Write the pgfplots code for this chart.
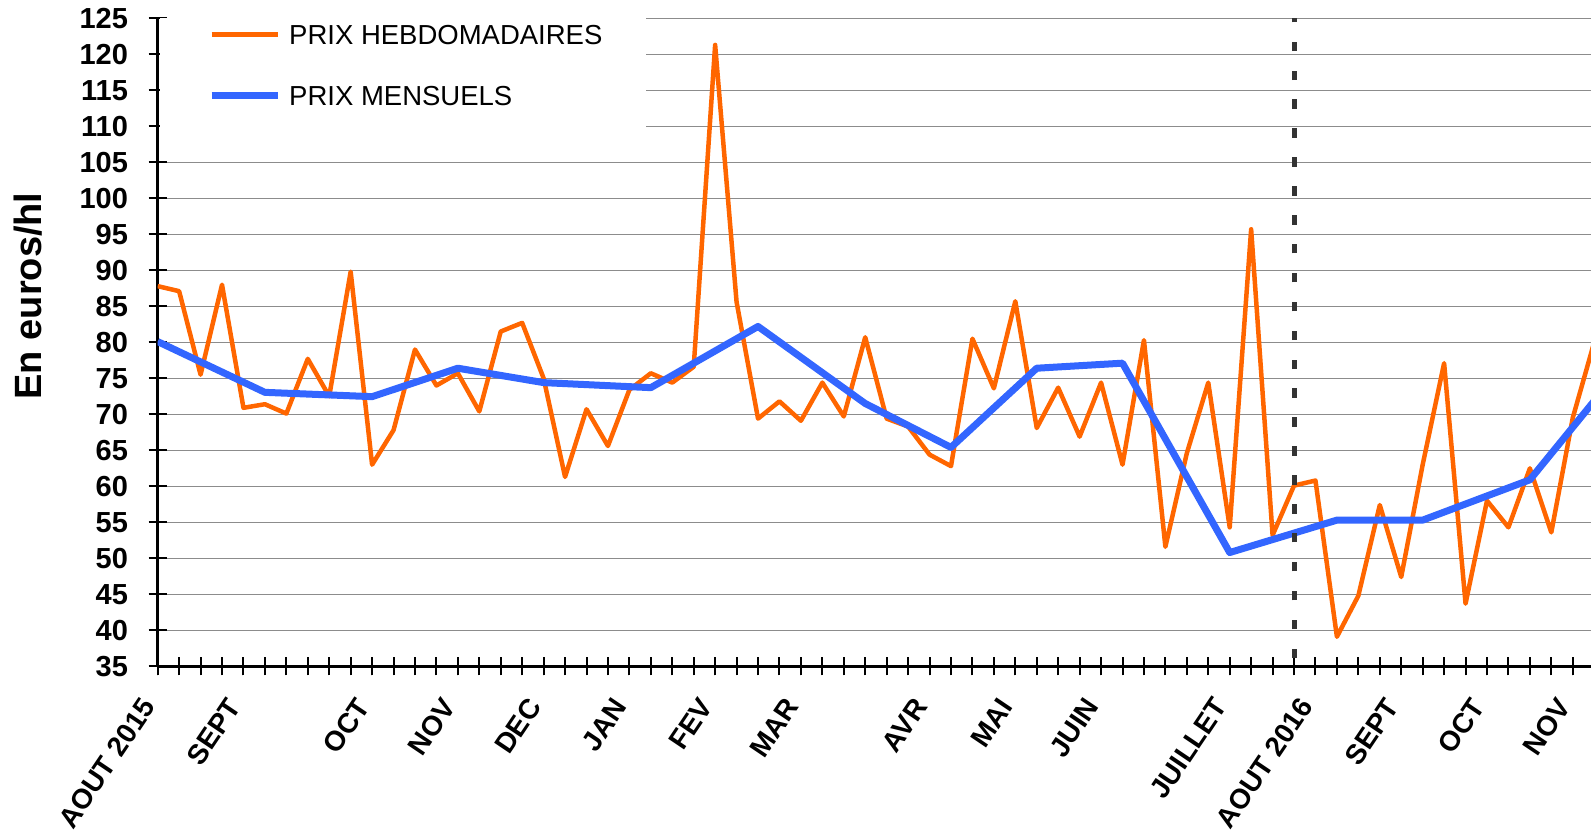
\documentclass[border=0pt]{standalone}
\usepackage{fontspec}
\setmainfont{Liberation Sans}
\usepackage{pgfplots}
\pgfplotsset{compat=1.18}
\definecolor{hebdo}{HTML}{FF6600}
\definecolor{mensuel}{HTML}{3366FF}
\definecolor{gridgray}{HTML}{8C8C8C}
\definecolor{dashgray}{HTML}{333333}
\begin{document}
\begin{tikzpicture}
\path[use as bounding box] (-157.7pt,-167.7pt) rectangle (1433.3pt,666.3pt);
\begin{axis}[
  scale only axis, width=1433.3pt, height=648pt,
  xmin=0, xmax=66.85, ymin=35, ymax=125,
  axis x line*=bottom, axis y line*=left,
  axis line style={line width=2.6pt, black},
  ytick={35,40,...,125},
  xtick={0,4,10,14,18,22,26,30,36,40,44,50,54,58,62,66},
  xticklabels={AOUT 2015,SEPT,OCT,NOV,DEC,JAN,FEV,MAR,AVR,MAI,JUIN,JUILLET,AOUT 2016,SEPT,OCT,NOV},
  minor xtick={0,...,66},
  tick align=center,
  major tick length=18pt, minor tick length=18pt,
  tick style={line width=2pt, black},
  ymajorgrids, grid style={gridgray, line width=1.3pt},
  /pgf/number format/assume math mode=true,
  ticklabel style={font=\fontsize{29}{30}\selectfont\bfseries, inner sep=0pt},
  yticklabel style={anchor=east, xshift=-20.5pt},
  xticklabel style={font=\fontsize{28}{30}\selectfont\bfseries,
    xshift=-9pt, yshift=-26pt, rotate=56, anchor=east},
  ylabel={En euros/hl},
  ylabel style={font=\fontsize{38}{40}\selectfont\bfseries,
    at={(axis description cs:-0.0901,0.5715)}, anchor=center},
  legend style={at={(axis description cs:0.0351,0.9906)}, anchor=north west,
    draw=none, fill=none, inner sep=0pt, row sep=41pt, column sep=8pt,
    font=\fontsize{27.5}{30}\selectfont,
    nodes={inner sep=0pt, text height=20pt, text depth=0pt}},
  legend cell align=left,
  legend image code/.code={\draw[#1] (0pt,0pt) -- (66pt,0pt);},
]
% white box behind the legend
\fill[white] (axis cs:0.12,109.5) rectangle (axis cs:22.78,126);

% weekly prices
\addplot[hebdo, line width=4.5pt, line join=round] coordinates {
 (0,87.8) (1,87.1) (2,75.5) (3,88.0) (4,70.9) (5,71.4) (6,70.1) (7,77.7)
 (8,72.5) (9,89.8) (10,63.0) (11,67.8) (12,79.0) (13,74.0) (14,75.7) (15,70.4)
 (16,81.5) (17,82.7) (18,75.0) (19,61.3) (20,70.7) (21,65.6) (22,73.4) (23,75.7)
 (24,74.4) (25,76.6) (26,121.3) (27,85.6) (28,69.4) (29,71.8) (30,69.1) (31,74.4)
 (32,69.7) (33,80.7) (34,69.4) (35,68.3) (36,64.4) (37,62.8) (38,80.5) (39,73.6)
 (40,85.7) (41,68.1) (42,73.7) (43,66.9) (44,74.4) (45,63.0) (46,80.3) (47,51.6)
 (48,64.6) (49,74.4) (50,54.3) (51,95.7) (52,53.2) (53,60.1) (54,60.8) (55,39.1)
 (56,44.8) (57,57.4) (58,47.4) (59,63.0) (60,77.1) (61,43.7) (62,58.0) (63,54.3)
 (64,62.5) (65,53.6) (66,69.5) (67,80.0)
};
\addlegendentry{PRIX HEBDOMADAIRES}

% monthly prices
\addplot[mensuel, line width=7pt, line join=round] coordinates {
 (0,80.1) (5,73.05) (10,72.45) (14,76.4) (18,74.4) (23,73.7) (28,82.2)
 (33,71.5) (37,65.4) (41,76.4) (45,77.1) (50,50.8) (55,55.3) (59,55.3)
 (64,60.9) (68,75.5)
};
\addlegendentry{PRIX MENSUELS}

% start of the second campaign
\addplot[dashgray, line width=5pt, dash pattern=on 9.5pt off 19.4pt,
  dash phase=20.7pt, forget plot] coordinates {(53,35) (53,125)};
\end{axis}
\end{tikzpicture}
\end{document}
